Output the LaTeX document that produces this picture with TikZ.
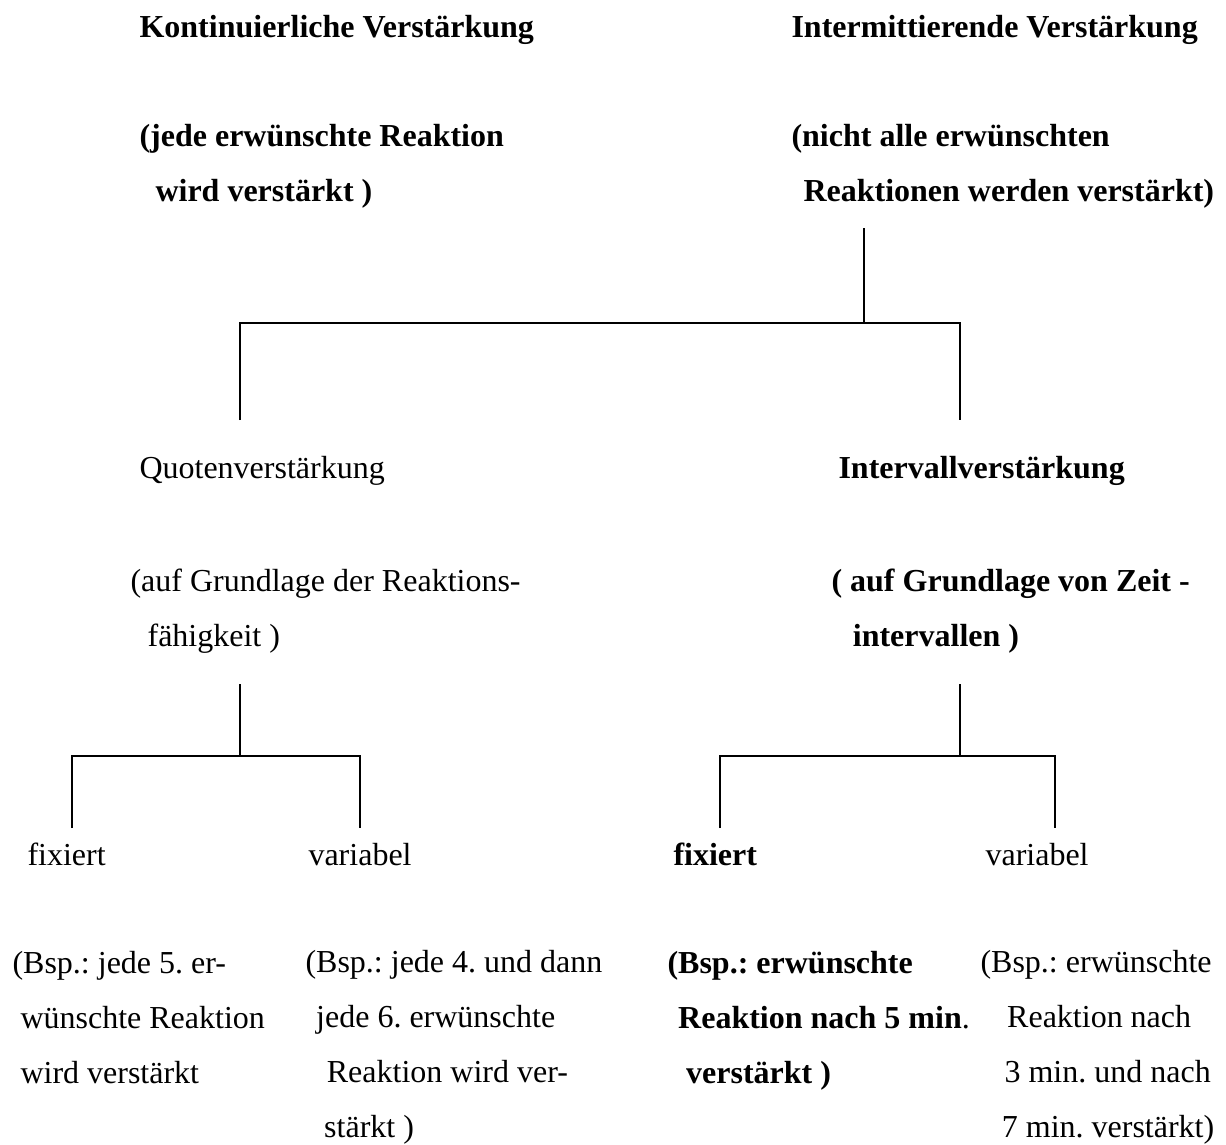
\documentclass[tikz,border=0pt]{standalone}
\usepackage{fontspec}
\setmainfont{Liberation Serif}
\usepackage{tikz}
\usetikzlibrary{calc}
\frenchspacing

\begin{document}
\begin{tikzpicture}[
  x=0.375pt,
  y=-0.375pt
]

  \path[use as bounding box] (0,0) rectangle (1226,1144);

  % base west of a multi-line node sits on its last line
  \tikzstyle{lab}=[anchor=base west,inner sep=0pt,align=left,font=\fontsize{12}{20.6}\selectfont]
  \tikzstyle{labbold}=[lab,font=\fontsize{12}{20.6}\selectfont\bfseries]
  \tikzstyle{branch}=[draw,line width=0.75pt]

  % top level
  \node[labbold] (kont) at (139,37) {Kontinuierliche Verstärkung};
  \node[labbold] (kontdesc) at (139,201) {(jede erwünschte Reaktion\\\hspace*{6pt}wird verstärkt )};
  \node[labbold] (inter) at (791,37) {Intermittierende Verstärkung};
  \node[labbold] (interdesc) at (791,201) {(nicht alle erwünschten\\\hspace*{4.5pt}Reaktionen werden verstärkt)};

  % second level
  \node[lab] (quote) at (139,478) {Quotenverstärkung};
  \node[lab] (quotedesc) at (130,646) {(auf Grundlage der Reaktions-\\\hspace*{6.4pt}fähigkeit )};
  \node[labbold] (intv) at (838,478) {Intervallverstärkung};
  \node[labbold] (intvdesc) at (831,646) {( auf Grundlage von Zeit -\\\hspace*{8pt}intervallen )};

  % third level
  \node[lab] (qfix) at (27,865) {fixiert};
  \node[lab] (qvar) at (308,865) {variabel};
  \node[labbold] (ifix) at (673,865) {fixiert};
  \node[lab] (ivar) at (985,865) {variabel};

  % examples
  \node[lab] (qfixdesc) at (12,1083) {(Bsp.: jede 5. er-\\\hspace*{3pt}wünschte Reaktion\\\hspace*{3pt}wird verstärkt};
  \node[lab] (qvardesc) at (305,1137) {(Bsp.: jede 4. und dann\\\hspace*{4pt}jede 6. erwünschte\\\hspace*{8pt}Reaktion wird ver-\\\hspace*{7pt}stärkt )};
  \node[labbold] (ifixdesc) at (667,1083) {(Bsp.: erwünschte\\\hspace*{4pt}Reaktion nach 5 min\textmd{.}\\\hspace*{7pt}verstärkt )};
  \node[lab] (ivardesc) at (980,1137) {(Bsp.: erwünschte\\\hspace*{10pt}Reaktion nach\\\hspace*{9pt}3 min. und nach\\\hspace*{8pt}7 min. verstärkt)};

  % branch points
  \coordinate (top) at (864,228);
  \coordinate (fork) at (864,323);
  \coordinate (quotetop) at (240,420);
  \coordinate (intvtop) at (960,420);
  \coordinate (qstem) at (240,684);
  \coordinate (qfork) at (240,756);
  \coordinate (qfixtop) at (72,828);
  \coordinate (qvartop) at (360,828);
  \coordinate (istem) at (960,684);
  \coordinate (ifork) at (960,756);
  \coordinate (ifixtop) at (720,828);
  \coordinate (ivartop) at (1055,828);

  % lines
  \draw[branch] (top) -- (fork);
  \draw[branch] (quotetop) |- (fork) -| (intvtop);
  \draw[branch] (qstem) -- (qfork);
  \draw[branch] (qfixtop) |- (qfork) -| (qvartop);
  \draw[branch] (istem) -- (ifork);
  \draw[branch] (ifixtop) |- (ifork) -| (ivartop);

\end{tikzpicture}
\end{document}
